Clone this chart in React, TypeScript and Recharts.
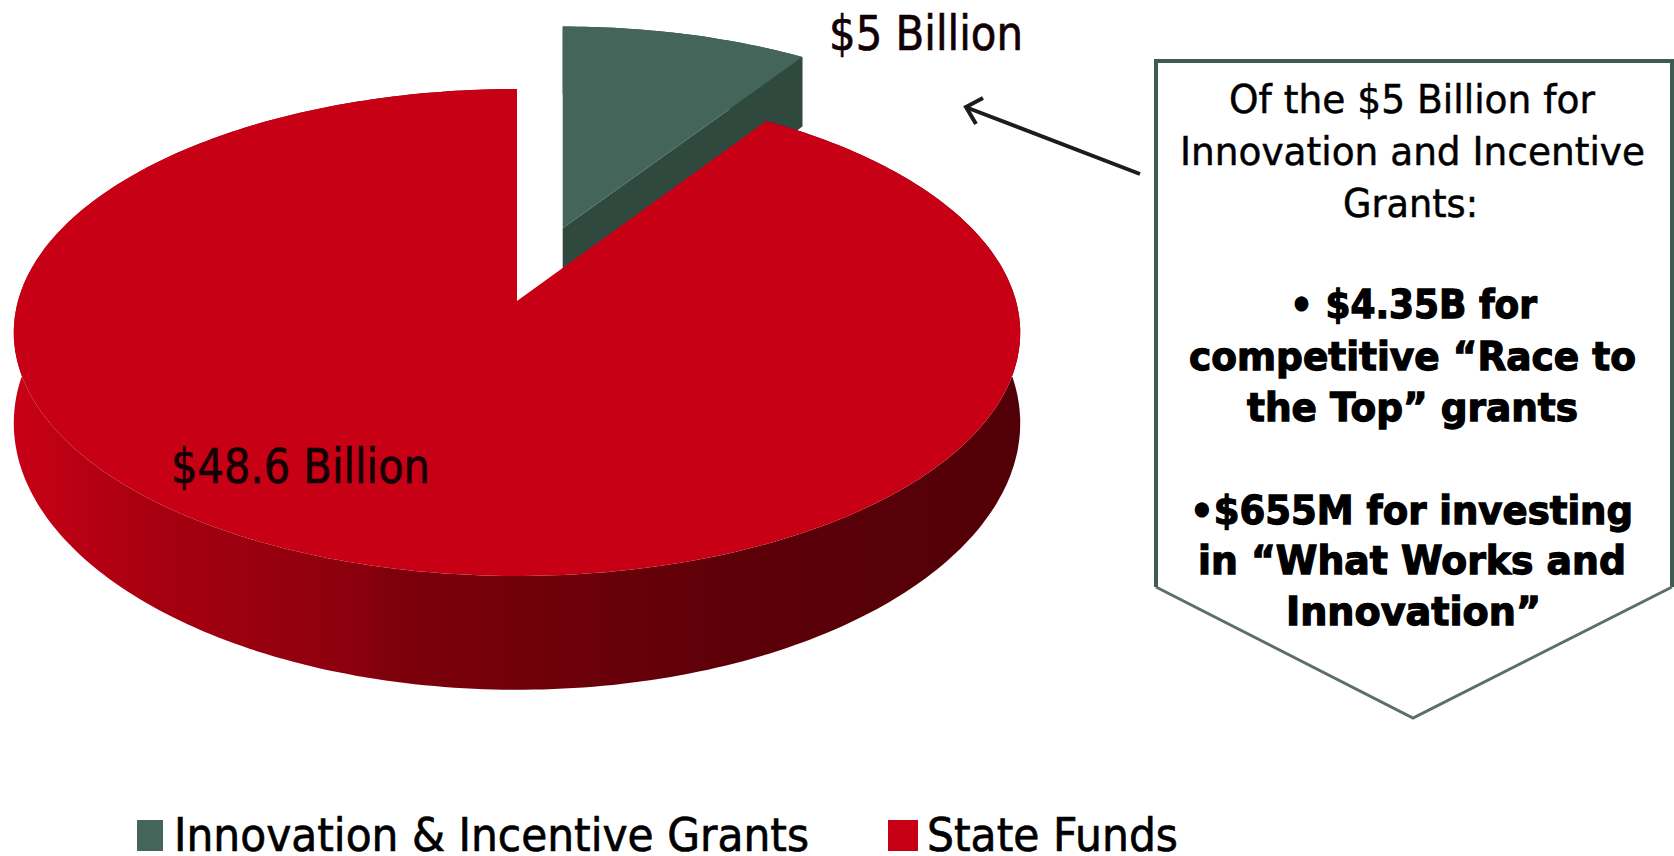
import { Legend, Pie, PieChart } from "recharts";

const CATEGORIES = ["Innovation & Incentive Grants", "State Funds"];
const VALUES = [5, 48.6];
const VALUE_LABELS = ["$5 Billion", "$48.6 Billion"];
const CALLOUT_PLAIN = ["Of the $5 Billion for", "Innovation and Incentive", "Grants:"];
const CALLOUT_RACE = ["• $4.35B for", "competitive “Race to", "the Top” grants"];
const CALLOUT_WORKS = ["•$655M for investing", "in “What Works and", "Innovation”"];

const TOP_COLORS = ["#44655a", "#c80016"];
const WALL_COLORS = ["#30493e", "url(#redWall)"];
const EXPLODE = [0.33, 0];
const RIM_STRETCH = [1.03, 1];

const WIDTH = 1674;
const HEIGHT = 856;
const FONT = '"DejaVu Sans", Verdana, sans-serif';

// tilted disc: radius-unit point -> screen, with some perspective toward the back
const TILT = 239.4;
const PERSPECTIVE = 0.1293;
const DEPTH = 88;
const DEPTH_FALLOFF = 0.227;

function wallDepth(y: number) {
  return DEPTH / (1 + DEPTH_FALLOFF * y);
}

function toPath(pts: { x: number; y: number }[]) {
  return pts.map((p, i) => `${i ? "L" : "M"}${p.x.toFixed(1)} ${p.y.toFixed(1)}`).join(" ") + " Z";
}

function TiltedSector(props: any) {
  const { cx, cy, outerRadius, startAngle, endAngle, midAngle, name } = props;
  const i = CATEGORIES.indexOf(name);
  const rad = Math.PI / 180;
  const ox = EXPLODE[i] * Math.cos(midAngle * rad);
  const oy = EXPLODE[i] * Math.sin(midAngle * rad);
  // the pulled-out slice keeps its sideways offset constant so its cut edge stays upright
  const shiftX = (outerRadius * ox) / (1 + PERSPECTIVE * oy);

  const place = (x: number, y: number, drop = false) => {
    const d = 1 + PERSPECTIVE * y;
    return {
      x: cx + shiftX + (outerRadius * x) / d,
      y: cy - (TILT * y) / d + (drop ? wallDepth(y) : 0),
    };
  };

  const rim: { x: number; y: number }[] = [];
  const steps = Math.ceil(Math.abs(startAngle - endAngle));
  for (let s = 0; s <= steps; s++) {
    const a = (startAngle + ((endAngle - startAngle) * s) / steps) * rad;
    rim.push({ x: Math.cos(a), y: oy + RIM_STRETCH[i] * Math.sin(a) });
  }

  const top = [place(0, oy), ...rim.map((p) => place(p.x, p.y))];
  const arcWall = [
    ...rim.map((p) => place(p.x, p.y)),
    ...[...rim].reverse().map((p) => place(p.x, p.y, true)),
  ];
  const last = rim[rim.length - 1];
  const cutWall = [place(0, oy), place(last.x, last.y), place(last.x, last.y, true), place(0, oy, true)];

  return (
    <g>
      <path d={toPath(arcWall)} fill={WALL_COLORS[i]} />
      <path d={toPath(cutWall)} fill={i === 0 ? WALL_COLORS[0] : TOP_COLORS[1]} />
      <path d={toPath(top)} fill={TOP_COLORS[i]} />
    </g>
  );
}

function ValueLabel(props: any) {
  const spots = [
    { x: 829, y: 50, w: 194 },
    { x: 171, y: 483, w: 259 },
  ];
  const spot = spots[props.index];
  return (
    <text
      x={spot.x}
      y={spot.y}
      fontFamily={FONT}
      fontSize={48}
      fill="#120004"
      stroke="#120004"
      strokeWidth={0.7}
      textLength={spot.w}
      lengthAdjust="spacingAndGlyphs"
    >
      {VALUE_LABELS[props.index]}
    </text>
  );
}

function LegendRow() {
  const items = [
    { square: 137, size: 26, textX: 174, textLength: 635 },
    { square: 888, size: 30, textX: 927, textLength: 251 },
  ];
  return (
    <svg width={WIDTH} height={46} style={{ display: "block" }}>
      {CATEGORIES.map((c, i) => (
        <g key={c}>
          <rect x={items[i].square} y={10} width={items[i].size} height={31} fill={TOP_COLORS[i]} />
          <text
            x={items[i].textX}
            y={41}
            fontFamily={FONT}
            fontSize={46}
            fill="#000"
            stroke="#000"
            strokeWidth={0.7}
            textLength={items[i].textLength}
            lengthAdjust="spacingAndGlyphs"
          >
            {c}
          </text>
        </g>
      ))}
    </svg>
  );
}

function CalloutLine({ y, x, w, bold, children }: any) {
  return (
    <text
      x={x}
      y={y}
      fontFamily={FONT}
      fontWeight={bold ? 700 : 400}
      fontSize={39}
      fill="#000"
      stroke="#000"
      strokeWidth={bold ? 1.3 : 0.5}
      textLength={w}
      lengthAdjust="spacingAndGlyphs"
    >
      {children}
    </text>
  );
}

export default function App() {
  const data = CATEGORIES.map((name, i) => ({ name, value: VALUES[i], fill: TOP_COLORS[i] }));

  return (
    <div style={{ position: "fixed", left: 0, top: 0, width: WIDTH, height: HEIGHT, background: "#fff" }}>
      <PieChart width={WIDTH} height={HEIGHT} margin={{ top: 0, right: 0, bottom: 0, left: 0 }}>
        <defs>
          <linearGradient id="redWall" x1="0" y1="0" x2="1" y2="0">
            <stop offset="0" stopColor="#c80016" />
            <stop offset="0.05" stopColor="#bd0014" />
            <stop offset="0.13" stopColor="#a80010" />
            <stop offset="0.35" stopColor="#8a000d" />
            <stop offset="0.37" stopColor="#7e000b" />
            <stop offset="0.7" stopColor="#5e0008" />
            <stop offset="1" stopColor="#520007" />
          </linearGradient>
        </defs>
        <Pie
          data={data}
          dataKey="value"
          nameKey="name"
          cx={517}
          cy={301}
          outerRadius={499}
          startAngle={90}
          endAngle={-270}
          stroke="none"
          shape={TiltedSector}
          isAnimationActive={false}
          label={ValueLabel}
          labelLine={false}
        />
        <Legend content={() => <LegendRow />} wrapperStyle={{ left: 0, top: 810, width: WIDTH, height: 46 }} />

        <path d="M1140 174 L968 108" stroke="#1c1c1c" strokeWidth={4} fill="none" />
        <path d="M983 98 L966 107 L976 124" stroke="#1c1c1c" strokeWidth={4} fill="none" />

        <path d="M1156 587 L1156 61 L1672 61 L1672 587" stroke="#3f5a4e" strokeWidth={4} fill="#fff" />
        <path d="M1156 587 L1413 718 L1672 587" stroke="#5c6f67" strokeWidth={3} fill="#fff" />

        <CalloutLine x={1229} y={113} w={366}>{CALLOUT_PLAIN[0]}</CalloutLine>
        <CalloutLine x={1180} y={165} w={465}>{CALLOUT_PLAIN[1]}</CalloutLine>
        <CalloutLine x={1343} y={217} w={135}>{CALLOUT_PLAIN[2]}</CalloutLine>
        <CalloutLine x={1290} y={318} w={247} bold>{CALLOUT_RACE[0]}</CalloutLine>
        <CalloutLine x={1189} y={370} w={447} bold>{CALLOUT_RACE[1]}</CalloutLine>
        <CalloutLine x={1247} y={421} w={331} bold>{CALLOUT_RACE[2]}</CalloutLine>
        <CalloutLine x={1190} y={524} w={443} bold>{CALLOUT_WORKS[0]}</CalloutLine>
        <CalloutLine x={1198} y={574} w={428} bold>{CALLOUT_WORKS[1]}</CalloutLine>
        <CalloutLine x={1286} y={625} w={255} bold>{CALLOUT_WORKS[2]}</CalloutLine>
      </PieChart>
    </div>
  );
}
